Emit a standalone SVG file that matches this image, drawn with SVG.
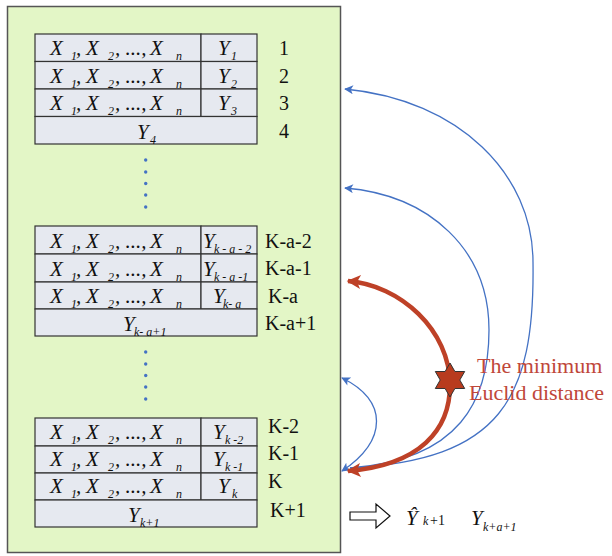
<svg xmlns="http://www.w3.org/2000/svg" width="612" height="556" viewBox="0 0 612 556">
<style>
.m{font-family:"Liberation Serif",serif;font-style:italic;font-size:21px;fill:#111}
.s{font-family:"Liberation Serif",serif;font-style:italic;font-size:12px;fill:#111}
.l{font-family:"Liberation Serif",serif;font-size:20px;fill:#111}
.cell{fill:#e6e9f0;stroke:#333;stroke-width:1.2}
.dot{fill:#4472c4}
.blue{fill:none;stroke:#4472c4;stroke-width:1.3}
.red{fill:none;stroke:#be4127;stroke-width:4.5}
</style>
<defs>
<marker id="ab" viewBox="0 0 10 10" refX="9" refY="5" markerWidth="11" markerHeight="9" markerUnits="userSpaceOnUse" orient="auto-start-reverse"><path d="M0,0 L10,5 L0,10 L2.5,5 Z" fill="#4472c4"/></marker>
<marker id="ar" viewBox="0 0 10 10" refX="9" refY="5" markerWidth="16" markerHeight="14" markerUnits="userSpaceOnUse" orient="auto-start-reverse"><path d="M0,0 L10,5 L0,10 L2.5,5 Z" fill="#be4127"/></marker>
</defs>
<rect id="panel" x="7.5" y="6.5" width="333" height="546" fill="#e3f6c6" stroke="#555" stroke-width="1.5"/>

<g id="table1">
<rect class="cell" x="35" y="34" width="166" height="27.5"/><rect class="cell" x="201" y="34" width="56" height="27.5"/>
<rect class="cell" x="35" y="61.5" width="166" height="27.5"/><rect class="cell" x="201" y="61.5" width="56" height="27.5"/>
<rect class="cell" x="35" y="89" width="166" height="27.5"/><rect class="cell" x="201" y="89" width="56" height="27.5"/>
<rect class="cell" x="35" y="116.5" width="222" height="27.5"/>
<text class="m"><tspan x="50" y="55">X</tspan><tspan class="s" x="71" y="60">1</tspan><tspan x="76" y="55">,</tspan><tspan x="86" y="55">X</tspan><tspan class="s" x="108" y="60">2</tspan><tspan x="115" y="55">, ...,</tspan><tspan x="150" y="55">X</tspan><tspan class="s" x="176" y="60">n</tspan></text>
<text class="m"><tspan x="50" y="83">X</tspan><tspan class="s" x="71" y="88">1</tspan><tspan x="76" y="83">,</tspan><tspan x="86" y="83">X</tspan><tspan class="s" x="108" y="88">2</tspan><tspan x="115" y="83">, ...,</tspan><tspan x="150" y="83">X</tspan><tspan class="s" x="176" y="88">n</tspan></text>
<text class="m"><tspan x="50" y="110">X</tspan><tspan class="s" x="71" y="115">1</tspan><tspan x="76" y="110">,</tspan><tspan x="86" y="110">X</tspan><tspan class="s" x="108" y="115">2</tspan><tspan x="115" y="110">, ...,</tspan><tspan x="150" y="110">X</tspan><tspan class="s" x="176" y="115">n</tspan></text>
<text class="m"><tspan x="218" y="55">Y</tspan><tspan class="s" x="231" y="60">1</tspan></text>
<text class="m"><tspan x="218" y="83">Y</tspan><tspan class="s" x="231" y="88">2</tspan></text>
<text class="m"><tspan x="218" y="110">Y</tspan><tspan class="s" x="231" y="115">3</tspan></text>
<text class="m"><tspan x="137" y="139">Y</tspan><tspan class="s" x="150" y="144">4</tspan></text>
<text class="l" x="279" y="55">1</text><text class="l" x="279" y="83">2</text><text class="l" x="279" y="110">3</text><text class="l" x="279" y="138">4</text>
</g>

<g id="dots1"><circle class="dot" cx="145.7" cy="160" r="1.7"/><circle class="dot" cx="145.7" cy="172" r="1.7"/><circle class="dot" cx="145.7" cy="183.5" r="1.7"/><circle class="dot" cx="145.7" cy="195" r="1.7"/><circle class="dot" cx="145.7" cy="207" r="1.7"/></g>

<g id="table2">
<rect class="cell" x="35" y="226" width="166" height="28"/><rect class="cell" x="201" y="226" width="56" height="28"/>
<rect class="cell" x="35" y="254" width="166" height="28"/><rect class="cell" x="201" y="254" width="56" height="28"/>
<rect class="cell" x="35" y="282" width="166" height="27"/><rect class="cell" x="201" y="282" width="56" height="27"/>
<rect class="cell" x="35" y="309" width="222" height="27"/>
<text class="m"><tspan x="50" y="248">X</tspan><tspan class="s" x="71" y="253">1</tspan><tspan x="76" y="248">,</tspan><tspan x="86" y="248">X</tspan><tspan class="s" x="108" y="253">2</tspan><tspan x="115" y="248">, ...,</tspan><tspan x="150" y="248">X</tspan><tspan class="s" x="176" y="253">n</tspan></text>
<text class="m"><tspan x="50" y="276">X</tspan><tspan class="s" x="71" y="281">1</tspan><tspan x="76" y="276">,</tspan><tspan x="86" y="276">X</tspan><tspan class="s" x="108" y="281">2</tspan><tspan x="115" y="276">, ...,</tspan><tspan x="150" y="276">X</tspan><tspan class="s" x="176" y="281">n</tspan></text>
<text class="m"><tspan x="50" y="303">X</tspan><tspan class="s" x="71" y="308">1</tspan><tspan x="76" y="303">,</tspan><tspan x="86" y="303">X</tspan><tspan class="s" x="108" y="308">2</tspan><tspan x="115" y="303">, ...,</tspan><tspan x="150" y="303">X</tspan><tspan class="s" x="176" y="308">n</tspan></text>
<text class="m"><tspan x="203" y="248">Y</tspan><tspan class="s" x="214" y="253">k - a - 2</tspan></text>
<text class="m"><tspan x="203" y="276">Y</tspan><tspan class="s" x="214" y="281">k - a -1</tspan></text>
<text class="m"><tspan x="213" y="303">Y</tspan><tspan class="s" x="223" y="308">k- a</tspan></text>
<text class="m"><tspan x="123" y="331">Y</tspan><tspan class="s" x="134" y="336">k- a+1</tspan></text>
<text class="l" x="265" y="248">K-a-2</text><text class="l" x="265" y="275">K-a-1</text><text class="l" x="268" y="303">K-a</text><text class="l" x="265" y="330">K-a+1</text>
</g>

<g id="dots2"><circle class="dot" cx="145.7" cy="352" r="1.7"/><circle class="dot" cx="145.7" cy="364" r="1.7"/><circle class="dot" cx="145.7" cy="375.5" r="1.7"/><circle class="dot" cx="145.7" cy="387" r="1.7"/><circle class="dot" cx="145.7" cy="399" r="1.7"/></g>

<g id="table3">
<rect class="cell" x="35" y="418" width="166" height="28"/><rect class="cell" x="201" y="418" width="56" height="28"/>
<rect class="cell" x="35" y="446" width="166" height="27"/><rect class="cell" x="201" y="446" width="56" height="27"/>
<rect class="cell" x="35" y="473" width="166" height="27"/><rect class="cell" x="201" y="473" width="56" height="27"/>
<rect class="cell" x="35" y="500" width="222" height="27"/>
<text class="m"><tspan x="50" y="439">X</tspan><tspan class="s" x="71" y="444">1</tspan><tspan x="76" y="439">,</tspan><tspan x="86" y="439">X</tspan><tspan class="s" x="108" y="444">2</tspan><tspan x="115" y="439">, ...,</tspan><tspan x="150" y="439">X</tspan><tspan class="s" x="176" y="444">n</tspan></text>
<text class="m"><tspan x="50" y="466">X</tspan><tspan class="s" x="71" y="471">1</tspan><tspan x="76" y="466">,</tspan><tspan x="86" y="466">X</tspan><tspan class="s" x="108" y="471">2</tspan><tspan x="115" y="466">, ...,</tspan><tspan x="150" y="466">X</tspan><tspan class="s" x="176" y="471">n</tspan></text>
<text class="m"><tspan x="50" y="493">X</tspan><tspan class="s" x="71" y="498">1</tspan><tspan x="76" y="493">,</tspan><tspan x="86" y="493">X</tspan><tspan class="s" x="108" y="498">2</tspan><tspan x="115" y="493">, ...,</tspan><tspan x="150" y="493">X</tspan><tspan class="s" x="176" y="498">n</tspan></text>
<text class="m"><tspan x="213" y="439">Y</tspan><tspan class="s" x="225" y="444">k -2</tspan></text>
<text class="m"><tspan x="213" y="466">Y</tspan><tspan class="s" x="225" y="471">k -1</tspan></text>
<text class="m"><tspan x="218" y="493">Y</tspan><tspan class="s" x="232" y="498">k</tspan></text>
<text class="m"><tspan x="128" y="522">Y</tspan><tspan class="s" x="140" y="527">k+1</tspan></text>
<text class="l" x="268" y="433">K-2</text><text class="l" x="268" y="460">K-1</text><text class="l" x="268" y="488">K</text><text class="l" x="270" y="517">K+1</text>
</g>

<g id="connectors">
<path class="blue" d="M350,468 C500,460 535,400 533,262 C533,175 460,100 345,89" marker-end="url(#ab)"/>
<path class="blue" d="M350,468 C460,460 489,400 489,330 C489,250 430,195 345,188" marker-end="url(#ab)"/>
<path class="blue" d="M342,471 C388,440 388,400 342,378" marker-start="url(#ab)" marker-end="url(#ab)"/>
<path class="red" d="M348,471 C420,465 450,430 450,385 C450,330 400,285 348,281" marker-start="url(#ar)" marker-end="url(#ar)"/>
</g>

<g id="star">
<polygon points="450,363 454.9,371.5 464.7,371.5 459.8,380 464.7,388.5 454.9,388.5 450,397 445.1,388.5 435.3,388.5 440.2,380 435.3,371.5 445.1,371.5" fill="#b83b1e" stroke="#333" stroke-width="1"/>
</g>
<g id="label" font-family="Liberation Serif, serif" font-size="22px" fill="#c0473a">
<text x="477" y="373">The minimum</text>
<text x="469" y="400">Euclid distance</text>
</g>

<g id="result">
<polygon points="350,512 376,512 376,504 390,516 376,528 376,520 350,520" fill="#fff" stroke="#111" stroke-width="1.2"/>
<text class="m" font-size="22px"><tspan x="406" y="525">Ŷ</tspan><tspan class="s" x="423" y="525" font-size="14px">k</tspan><tspan x="430" y="525" font-size="14px" font-style="normal">+1</tspan></text>
<text class="m" font-size="22px"><tspan x="471" y="525">Y</tspan><tspan class="s" x="483" y="531" font-size="14px">k+a+1</tspan></text>
</g>
</svg>
